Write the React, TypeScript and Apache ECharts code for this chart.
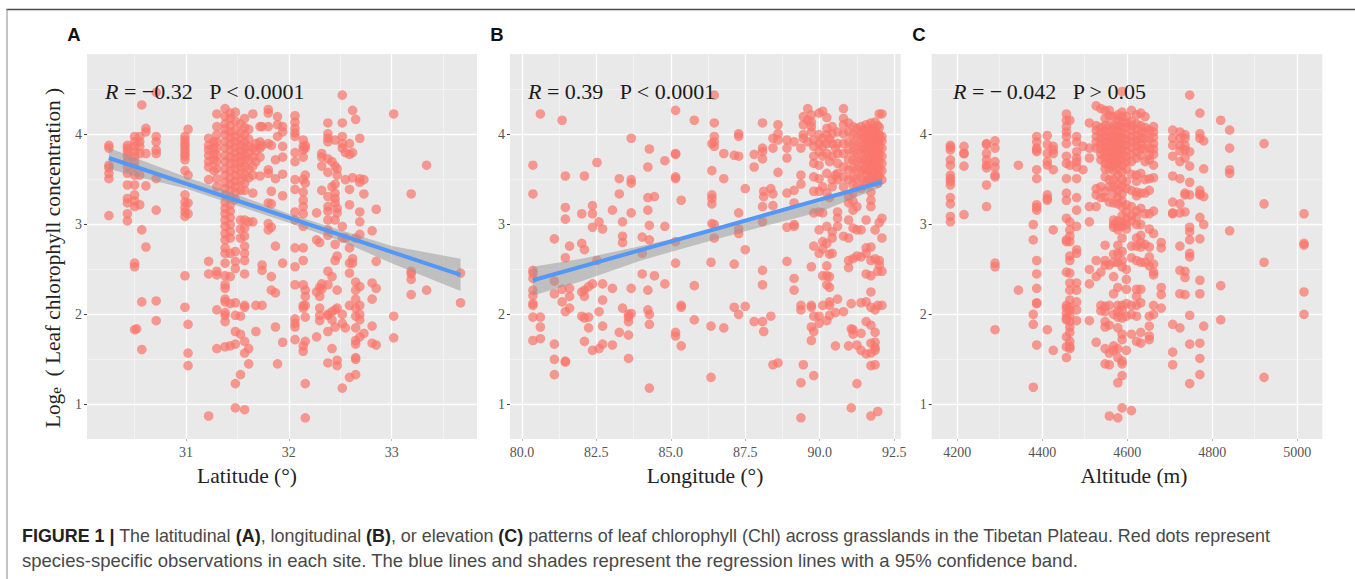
import React, { useEffect, useRef } from "react";
import * as echarts from "echarts";

type Col = [number, number[]];

// Latitude (deg) : Loge chlorophyll values, grouped by site column
const latitudeColumns: Col[] = [
  [30.25, [3.88, 3.85, 3.66, 3.63, 3.57, 3.51, 3.1]],
  [30.43, [3.88, 3.85, 3.81, 3.76, 3.7, 3.64, 3.57, 3.44, 3.29, 3.24, 3.12, 3.04]],
  [30.5, [3.98, 3.92, 3.87, 3.81, 3.76, 3.7, 3.64, 3.55, 3.44, 3.33, 3.26, 3.2, 2.57, 2.53, 1.83]],
  [30.52, [1.84]],
  [30.55, [3.98, 3.92, 3.87, 3.79, 3.55, 3.22]],
  [30.57, [4.33, 2.94, 2.14, 1.61]],
  [30.61, [4.07, 4.03, 3.79, 3.43, 2.75]],
  [30.71, [4.47, 3.98, 3.92, 3.83, 3.79, 3.51, 3.16, 2.15, 1.93]],
  [30.99, [3.98, 3.94, 3.9, 3.87, 3.83, 3.79, 3.76, 3.72, 3.6, 3.33, 3.25, 3.19, 3.14, 3.09, 2.43, 2.08]],
  [31.02, [4.06, 3.55, 3.24, 3.12, 1.89, 1.57, 1.43]],
  [31.22, [3.96, 3.88, 3.83, 3.77, 3.7, 3.64, 3.5, 2.59, 2.45, 0.87]],
  [31.27, [3.92, 3.85, 3.78, 3.72, 3.6]],
  [31.3, [4.23, 4.09, 4.0, 3.92, 3.85, 3.77, 3.7, 3.62, 3.51, 3.42, 2.48, 2.44, 2.05, 1.62]],
  [31.38, [4.29, 4.2, 4.12, 4.06, 4.0, 3.92, 3.85, 3.77, 3.7, 3.62, 3.55, 3.47, 3.4, 3.33, 3.25, 3.18, 3.12, 3.05, 2.98, 2.9, 2.83, 2.74, 2.68, 2.57, 2.43, 2.33, 2.29, 2.17, 2.14, 2.02, 1.99, 1.92, 1.64]],
  [31.43, [4.24, 4.18, 4.1, 4.03, 3.97, 3.9, 3.83, 3.75, 3.68, 3.6, 3.52, 3.45, 3.38, 3.3, 3.22, 3.15, 3.08, 3.0, 2.92, 2.85, 2.68, 2.42, 2.12, 1.65]],
  [31.48, [4.25, 4.15, 4.05, 3.98, 3.92, 3.86, 3.8, 3.74, 3.68, 3.62, 3.55, 3.48, 3.42, 3.36, 3.28, 2.7, 2.59, 2.51, 2.13, 1.99, 1.81, 1.67, 1.23, 0.96]],
  [31.53, [4.12, 4.02, 3.94, 3.88, 3.82, 3.76, 3.7, 3.64, 3.56, 3.48, 3.38, 3.05, 2.95, 2.85, 1.98, 1.78, 1.33]],
  [31.57, [4.18, 4.08, 4.0, 3.92, 3.85, 3.78, 3.72, 3.64, 3.55, 3.46, 3.38, 3.05, 2.96, 2.87, 2.76, 2.68, 2.6, 2.45, 2.1, 2.08, 1.7, 1.57, 0.94]],
  [31.61, [4.06, 3.95, 3.87, 3.8, 3.72, 3.62, 3.52, 3.03, 1.62, 1.45]],
  [31.65, [4.23, 3.85, 3.75, 3.65, 3.55, 3.35, 3.03]],
  [31.68, [3.9, 3.82, 3.7, 2.1, 1.81]],
  [31.72, [4.09, 3.92, 3.85, 3.75, 3.54]],
  [31.74, [4.09, 3.88, 2.55, 2.49, 2.1]],
  [31.8, [4.28, 4.24, 4.09, 3.9, 3.61, 3.57, 3.24, 3.01, 2.94]],
  [31.83, [3.88, 3.37, 3.23, 2.97, 2.42, 2.27]],
  [31.87, [3.72, 3.51, 2.76, 2.24, 1.86]],
  [31.89, [4.2, 4.11, 3.98, 1.45]],
  [31.94, [4.09, 4.03, 3.87, 3.75, 3.56, 3.32, 2.57, 1.69]],
  [32.06, [4.21, 4.14, 4.07, 4.02, 3.98, 3.8, 3.7, 3.5, 3.39, 3.14, 3.05, 2.74, 2.53, 2.33, 1.95, 1.9, 1.86, 1.72]],
  [32.14, [3.94, 3.87, 3.83, 3.75, 3.5, 3.36, 3.27, 3.2, 3.12, 2.98, 2.74, 2.6, 2.33, 2.1, 2.07, 1.65, 1.59]],
  [32.16, [3.88, 3.85, 3.55, 3.46, 2.27, 2.2, 2.1, 1.97, 1.7, 1.23, 0.85]],
  [32.27, [2.83, 1.75, 3.13, 2.25]],
  [32.3, [2.8, 2.3, 2.2, 2.07, 1.99, 1.93]],
  [32.32, [3.79, 3.75, 3.65, 3.38, 2.34, 2.28]],
  [32.38, [4.13, 4.01, 3.96, 3.92, 3.73, 3.58, 3.31, 3.2, 3.15, 3.05, 2.94, 2.88, 2.48, 2.33, 2.0, 1.99, 1.81, 1.46]],
  [32.42, [3.7, 3.42, 2.42, 2.03, 1.94, 1.62]],
  [32.45, [3.94, 3.65, 3.45, 3.35, 3.29, 3.24, 3.05, 2.78, 2.6, 2.05, 1.86]],
  [32.47, [3.62, 3.55, 3.18, 3.13, 2.65, 2.27, 2.07, 1.49, 1.43]],
  [32.52, [4.44, 4.13, 3.98, 3.85, 3.9, 2.98, 2.85, 2.0, 1.9, 1.18]],
  [32.55, [3.8, 3.5, 2.85, 1.85]],
  [32.59, [3.9, 3.78, 3.39, 3.22, 2.74, 2.57, 2.46, 2.1, 1.3]],
  [32.62, [4.27, 3.8, 3.52, 2.62, 2.57]],
  [32.65, [4.17, 2.85, 2.36, 2.27, 2.17, 2.07, 1.98, 1.85, 1.71, 1.67, 1.52, 1.5, 1.33]],
  [32.69, [3.96, 3.51, 3.47, 3.14, 3.03, 2.89, 2.31, 2.1, 2.0, 1.94, 1.75]],
  [32.73, [3.5, 3.34, 1.79]],
  [32.81, [2.93, 2.35, 2.17, 1.87, 1.68]],
  [32.85, [3.17, 2.59, 2.29, 1.66]],
  [33.02, [4.23, 1.98, 1.74]],
  [33.19, [3.34, 2.48, 2.45, 2.39, 2.22]],
  [33.34, [3.66, 2.27]],
  [33.67, [2.46, 2.13]],
];

// Longitude (deg) : Loge chlorophyll values
const longitudeColumns: Col[] = [
  [80.37, [3.66, 3.34, 2.49, 2.46, 2.4, 2.27, 2.21, 2.12, 2.1, 1.97, 1.71]],
  [80.62, [4.23, 1.97, 1.86, 1.73]],
  [81.09, [2.84, 2.37, 2.23, 1.67, 1.5, 1.33]],
  [81.35, [4.16, 2.28, 2.14]],
  [81.46, [3.54, 3.19, 3.06, 2.63, 2.03, 1.47, 1.48]],
  [81.6, [2.76, 2.29, 2.2, 2.07]],
  [82.01, [3.12, 2.79, 2.25, 1.98]],
  [82.1, [3.54, 2.72, 2.27, 2.2, 1.96, 1.7]],
  [82.24, [2.31, 1.97, 1.85]],
  [82.37, [3.21, 3.12, 2.97, 2.34, 1.6]],
  [82.52, [3.69, 2.6]],
  [82.59, [3.03, 2.03, 1.62]],
  [82.71, [2.95, 2.34, 2.16, 1.87, 1.67]],
  [83.04, [3.16, 2.29, 1.66]],
  [83.27, [3.51, 3.34, 1.8]],
  [83.38, [3.03, 2.87, 2.8, 2.07]],
  [83.58, [1.97, 1.92, 1.77, 1.51, 2.0]],
  [83.67, [3.96, 3.5, 3.46, 3.13, 2.29, 2.01]],
  [84.04, [2.86, 2.68, 2.45]],
  [84.23, [3.64, 3.3, 3.16, 2.27, 2.05]],
  [84.28, [3.84, 2.99, 2.83, 2.0, 1.89, 1.18]],
  [84.45, [3.31, 2.43]],
  [84.8, [3.71, 2.98, 2.34]],
  [85.16, [4.27, 3.79, 3.78, 3.53, 3.51, 2.81, 2.57, 1.8, 1.76]],
  [85.35, [3.27, 2.1, 2.08, 1.65]],
  [85.79, [4.16, 2.32, 1.94]],
  [86.35, [2.58, 1.87, 1.3]],
  [86.38, [3.9, 3.6, 3.33, 3.29, 3.23, 3.01]],
  [86.46, [4.44, 4.13, 3.98, 3.92, 3.87, 3.0, 2.85]],
  [86.78, [3.79, 3.51, 1.85]],
  [87.13, [3.77, 2.56, 2.08]],
  [87.28, [4.01, 3.98, 3.76, 3.13, 2.95, 2.9, 2.0]],
  [87.5, [3.4, 2.72, 2.09]],
  [87.8, [3.78, 3.64, 1.92]],
  [88.08, [4.13, 3.85, 3.81, 3.73, 3.2, 3.03, 2.49, 2.33, 1.92]],
  [88.12, [3.37, 3.31, 1.81]],
  [88.36, [3.4, 1.98]],
  [88.43, [3.96, 3.85, 3.34, 3.21, 1.44]],
  [88.6, [4.11, 4.01, 3.94, 3.58, 1.46]],
  [88.9, [3.94, 3.85, 3.74, 3.35, 2.97, 2.59]],
  [89.14, [3.92, 3.38, 3.24, 3.0, 2.98, 2.4, 2.27]],
  [89.37, [3.85, 3.55, 3.45, 2.1, 2.05, 1.24, 0.85]],
  [89.45, [4.2, 4.11, 4.0, 3.96, 1.44]],
  [89.6, [4.29, 4.16, 3.92]],
  [89.72, [4.22, 4.14, 4.09, 4.03, 2.1, 2.08, 1.86, 1.71, 2.53]],
  [89.8, [3.94, 3.87, 3.76, 3.68, 3.53, 3.37, 3.13, 2.76, 1.98, 1.81, 1.32]],
  [89.98, [4.24, 4.0, 3.9, 3.81, 3.66, 3.51, 3.37, 3.14, 2.94, 2.68, 1.98, 1.9]],
  [90.1, [4.26, 3.96, 3.87, 3.76, 3.42, 3.13, 2.81, 2.73, 2.43, 2.1]],
  [90.24, [4.19, 4.07, 4.0, 3.9, 3.79, 3.57, 3.35, 2.98, 2.79, 2.54, 2.43, 2.33, 1.93]],
  [90.33, [3.95, 3.7, 3.3, 2.67, 2.42, 2.3, 2.14, 2.1, 1.99]],
  [90.42, [4.09, 4.01, 3.9, 3.76, 3.5, 3.42, 2.92, 2.85, 2.68]],
  [90.53, [3.85, 3.55, 2.02, 1.65]],
  [90.6, [4.03, 3.9, 3.79, 3.68, 3.57, 3.5, 3.14, 3.07, 2.98, 2.17]],
  [90.8, [4.29, 4.18, 4.11, 4.01, 3.9, 3.79, 3.64, 3.53, 3.42, 2.87, 2.03]],
  [90.97, [4.13, 4.03, 3.92, 3.83, 3.72, 3.61, 3.5, 3.31, 3.24, 3.05, 2.85, 2.6, 2.52, 1.65]],
  [91.06, [2.12, 1.84, 0.96]],
  [91.12, [4.09, 4.0, 3.9, 3.81, 3.72, 3.63, 3.53, 3.44, 3.35, 3.26, 3.16, 2.96, 2.62, 1.83, 1.78]],
  [91.25, [4.07, 3.98, 3.88, 3.79, 3.7, 3.61, 3.51, 3.42, 3.2, 2.94, 2.65, 1.66, 1.23]],
  [91.39, [4.09, 4.03, 3.95, 3.87, 3.78, 3.69, 3.6, 3.52, 3.4, 2.94, 2.64, 2.13, 1.79, 1.6]],
  [91.48, [4.05, 3.96, 3.84, 3.72, 3.62, 3.44]],
  [91.56, [4.11, 4.03, 3.95, 3.87, 3.79, 3.7, 3.62, 3.54, 3.47, 3.05, 2.74, 2.68, 2.45, 2.14, 1.92, 1.56]],
  [91.64, [4.08, 3.99, 3.9, 3.8, 3.7, 3.6, 3.5]],
  [91.72, [4.13, 4.05, 3.97, 3.89, 3.81, 3.73, 3.65, 3.57, 3.49, 3.36, 3.27, 3.2, 2.75, 2.6, 2.43, 2.25, 2.08, 1.88, 1.68, 1.57, 1.43, 0.87]],
  [91.8, [4.07, 3.98, 3.88, 3.78, 3.68, 3.58, 3.48]],
  [91.86, [4.14, 4.06, 3.98, 3.9, 3.82, 3.74, 3.66, 3.58, 3.5, 2.94, 2.62, 2.05, 1.8, 1.69, 1.63, 1.6, 1.44]],
  [91.95, [4.1, 4.0, 3.92, 3.83, 3.74, 3.65, 3.55, 3.46, 2.48, 2.1, 0.92]],
  [92.0, [4.23, 4.08, 4.0, 3.94, 3.86, 3.78, 3.7, 3.62, 3.54, 3.02, 2.6, 2.55]],
  [92.09, [4.23, 3.98, 3.93, 3.85, 3.76, 3.68, 3.6, 3.5, 3.07, 2.85, 2.48, 2.1]],
];

// Altitude (m) : Loge chlorophyll values
const altitudeColumns: Col[] = [
  [4184, [3.88, 3.86, 3.83, 3.72, 3.66, 3.55, 3.51, 3.48, 3.44, 3.3, 3.23, 3.09, 3.03]],
  [4216, [3.87, 3.79, 3.79, 3.65, 3.11]],
  [4269, [3.9, 3.89, 3.79, 3.72, 3.66, 3.63, 3.44, 3.2]],
  [4289, [3.93, 3.85, 3.7, 3.64, 3.55, 3.53, 2.57, 2.53, 1.83]],
  [4344, [3.66, 2.27]],
  [4379, [3.0, 2.83, 2.0, 1.89, 1.19]],
  [4387, [3.98, 3.92, 3.85, 3.83, 3.81, 3.61, 3.51, 3.22, 3.19, 3.16, 2.6, 2.45, 2.29, 2.13, 2.12, 1.66]],
  [4412, [3.99, 3.89, 3.79, 3.7, 3.66, 3.33, 3.29, 3.27, 1.83]],
  [4426, [3.87, 3.83, 3.79, 3.61, 2.94, 1.6]],
  [4457, [4.23, 4.16, 4.09, 4.03, 3.98, 3.9, 3.76, 3.68, 3.51, 3.35, 3.27, 3.07, 2.83, 2.81, 2.47, 2.1, 2.07, 2.01, 1.96, 1.94, 1.75, 1.64, 1.52]],
  [4465, [4.16, 3.66, 3.03, 2.94, 2.87, 2.81, 2.65, 2.6, 2.46, 2.35, 2.27, 2.16, 2.08, 2.05, 1.99, 1.92, 1.86, 1.8, 1.7, 1.64, 1.62]],
  [4481, [3.98, 3.92, 3.81, 3.74, 3.7, 3.64, 3.51, 3.3, 3.16, 2.98, 2.72, 2.68, 2.35, 2.27, 2.14, 2.05, 1.93]],
  [4496, [3.87, 3.61]],
  [4511, [4.13, 3.85, 3.74, 3.2, 3.03, 2.5, 2.34, 1.93]],
  [4527, [4.32, 4.1, 4.05, 3.98, 3.92, 3.85, 3.4, 3.33, 3.2, 2.6, 2.42, 1.69]],
  [4538, [4.29, 4.08, 4.02, 3.96, 3.9, 3.84, 3.78, 3.72, 3.42, 3.3, 2.47, 2.1, 2.04]],
  [4548, [4.27, 4.18, 4.1, 4.04, 3.98, 3.92, 3.86, 3.8, 3.74, 3.68, 3.62, 3.53, 3.37, 3.3, 2.77, 2.6, 2.55, 2.09, 2.03, 1.92, 1.86, 1.62, 1.45]],
  [4558, [4.27, 4.21, 4.1, 4.03, 3.97, 3.92, 3.87, 3.82, 3.77, 3.72, 3.67, 3.62, 3.5, 3.42, 3.25, 2.55, 2.1, 1.88, 1.44, 1.57, 0.87]],
  [4568, [4.2, 4.1, 4.06, 4.0, 3.95, 3.9, 3.85, 3.8, 3.75, 3.7, 3.65, 3.6, 3.5, 3.42, 3.34, 3.24, 3.05, 3.0, 2.97, 2.67, 2.58, 2.42, 2.23, 2.0, 1.65, 1.6]],
  [4578, [4.22, 4.16, 4.1, 4.04, 3.98, 3.93, 3.88, 3.83, 3.78, 3.73, 3.68, 3.63, 3.55, 3.45, 3.38, 3.3, 3.23, 3.04, 2.98, 2.94, 2.77, 2.68, 2.58, 2.3, 2.1, 2.03, 1.97, 1.85, 1.62, 1.52, 1.24, 0.85]],
  [4588, [4.48, 4.25, 4.2, 4.14, 4.08, 4.02, 3.96, 3.9, 3.84, 3.78, 3.72, 3.66, 3.58, 3.5, 3.42, 3.34, 3.26, 3.2, 3.1, 3.02, 2.98, 2.85, 2.7, 2.6, 2.53, 2.1, 2.05, 1.96, 1.78, 1.72, 1.48, 1.45, 1.32, 0.96]],
  [4598, [4.2, 4.13, 4.08, 4.0, 3.94, 3.88, 3.82, 3.76, 3.7, 3.62, 3.48, 3.4, 3.22, 3.14, 3.06, 3.0, 2.95, 2.5, 2.39, 2.28, 2.12, 1.98, 1.6]],
  [4610, [4.27, 4.15, 4.1, 4.05, 3.98, 3.92, 3.86, 3.78, 3.7, 3.56, 3.38, 3.2, 3.1, 3.04, 2.76, 2.63, 2.1, 2.0, 1.78, 0.93]],
  [4622, [4.22, 4.12, 4.06, 3.99, 3.93, 3.87, 3.81, 3.74, 3.55, 3.48, 3.36, 3.32, 3.15, 3.08, 3.0, 2.85, 2.76, 2.6, 2.28, 2.2, 2.1, 1.98, 1.7]],
  [4632, [4.24, 4.1, 4.02, 3.96, 3.9, 3.84, 3.77, 3.57, 3.35, 3.18, 3.0, 2.88, 2.8, 2.75, 2.58, 2.28, 2.13, 1.8, 1.68]],
  [4642, [4.2, 4.08, 4.03, 3.95, 3.85, 3.7, 3.5, 3.35, 3.12, 2.78, 2.58]],
  [4652, [4.05, 3.95, 3.85, 3.77, 3.72, 3.51, 3.38, 3.12, 2.95, 2.75, 2.64, 2.54, 1.98, 1.87, 1.72, 1.76]],
  [4662, [4.09, 4.03, 3.97, 3.9, 3.84, 3.78, 3.66, 3.52, 3.15, 2.9, 2.56, 2.47, 2.44, 2.1, 2.0]],
  [4680, [2.8, 2.74, 2.3, 2.22, 2.07]],
  [4707, [4.05, 3.96, 3.88, 3.76, 3.54, 3.25, 3.13, 3.12, 1.89, 1.58, 1.44]],
  [4724, [4.03, 3.96, 3.88, 3.82, 3.7, 3.51, 3.23, 3.13, 2.76, 2.49, 2.23, 1.85]],
  [4736, [4.0, 3.96, 3.88, 3.83, 3.74, 3.35, 3.33, 3.14, 2.48, 2.41, 2.22]],
  [4747, [4.44, 3.81, 3.65, 3.47, 3.33, 2.97, 2.92, 2.83, 2.68, 2.64, 1.99, 1.67, 1.23]],
  [4771, [4.24, 4.01, 3.96, 3.38, 3.33, 3.34, 3.08, 2.84, 2.38, 2.23, 1.68, 1.51, 1.33]],
  [4780, [3.93, 3.62, 3.31, 3.0, 1.87]],
  [4820, [4.16, 2.32, 1.94]],
  [4841, [4.05, 3.85, 3.61, 3.57, 2.93]],
  [4922, [3.9, 3.23, 2.58, 1.3]],
  [5016, [3.12, 2.79, 2.77, 2.25, 2.0]],
];

const yTicks = [1, 2, 3, 4];
const yMinor = [1.5, 2.5, 3.5, 4.5];
const latTicks = [31, 32, 33];
const latMinor = [30.5, 31.5, 32.5, 33.5];
const lonTicks = [80, 82.5, 85, 87.5, 90, 92.5];
const lonTickLabels = ["80.0", "82.5", "85.0", "87.5", "90.0", "92.5"];
const lonMinor = [81.25, 83.75, 86.25, 88.75, 91.25];
const altTicks = [4200, 4400, 4600, 4800, 5000];
const altMinor = [4300, 4500, 4700, 4900];

// Regression lines
const latFitX = [30.25, 33.67];
const latFitY = [3.74, 2.44];
const lonFitX = [80.37, 92.09];
const lonFitY = [2.38, 3.47];

// 95% confidence bands
const latBandX = [30.25, 30.6, 31, 31.5, 32, 32.5, 33, 33.67];
const latBandHi = [3.85, 3.7, 3.53, 3.33, 3.12, 2.94, 2.76, 2.62];
const latBandLo = [3.62, 3.51, 3.4, 3.21, 3.02, 2.82, 2.57, 2.26];
const lonBandX = [80.37, 82, 84, 86, 88, 90, 92.09];
const lonBandHi = [2.53, 2.62, 2.76, 2.91, 3.07, 3.25, 3.52];
const lonBandLo = [2.21, 2.37, 2.6, 2.79, 2.97, 3.14, 3.42];

const SERIF = "'Liberation Serif', serif";
const SANS = "'Liberation Sans', Arial, sans-serif";
const DOT = "rgba(249,118,108,0.9)";
const panels = [
  { left: 87, right: 477, min: 30.037, max: 33.83, ticks: latTicks, minor: latMinor },
  { left: 510, right: 900.7, min: 79.6, max: 92.72, ticks: lonTicks, minor: lonMinor },
  { left: 931.7, right: 1322.3, min: 4140, max: 5059, ticks: altTicks, minor: altMinor },
];
const TOP = 54;
const BOTTOM = 439;
const yMin = 0.614;
const yMax = 4.897;

const flat = (cols: Col[]) => cols.flatMap(([x, ys]) => ys.map((y) => [x, y]));

const band = (xs: number[], hi: number[], lo: number[], xAxisIndex: number, yAxisIndex: number) => ({
  type: "custom",
  xAxisIndex,
  yAxisIndex,
  z: 3,
  silent: true,
  data: [[xs[0], hi[0]]],
  renderItem: (_p: any, api: any) => ({
    type: "polygon",
    shape: {
      points: [
        ...xs.map((x, i) => api.coord([x, hi[i]])),
        ...xs.map((x, i) => api.coord([x, lo[i]])).reverse(),
      ],
    },
    style: { fill: "rgba(150,150,150,0.5)", stroke: "none" },
  }),
});

const fit = (xs: number[], ys: number[], xAxisIndex: number, yAxisIndex: number) => ({
  type: "line",
  xAxisIndex,
  yAxisIndex,
  z: 4,
  showSymbol: false,
  silent: true,
  lineStyle: { color: "#5597F5", width: 4 },
  data: xs.map((x, i) => [x, ys[i]]),
});

const points = (cols: Col[], xAxisIndex: number, yAxisIndex: number) => ({
  type: "scatter",
  xAxisIndex,
  yAxisIndex,
  z: 2,
  symbolSize: 9.6,
  itemStyle: { color: DOT },
  data: flat(cols),
});

const sans = (text: string, x: number, y: number) => ({
  type: "text",
  z: 10,
  x,
  y,
  style: { text, fill: "#111", font: `bold 18.5px ${SANS}`, align: "center", verticalAlign: "middle" },
});

const xTitle = (text: string, x: number) => ({
  type: "text",
  z: 10,
  x,
  y: 476,
  style: { text, fill: "#222", font: `21.5px ${SERIF}`, align: "center", verticalAlign: "middle" },
});

const stat = (text: string, x: number) => ({
  type: "text",
  z: 10,
  x,
  y: 91,
  style: {
    text,
    fill: "#1a1a1a",
    font: `22px ${SERIF}`,
    align: "left",
    verticalAlign: "middle",
    rich: {
      i: { font: `italic 22px ${SERIF}`, fill: "#1a1a1a" },
      t: { font: `22px ${SERIF}`, fill: "#1a1a1a" },
    },
  },
});

export default function App() {
  const ref = useRef<HTMLDivElement>(null);
  useEffect(() => {
    document.body.style.margin = "0";
    const chart = echarts.init(ref.current!, undefined, { renderer: "svg" });
    const grid = panels.map((p) => ({
      left: p.left,
      top: TOP,
      width: p.right - p.left,
      height: BOTTOM - TOP,
      show: true,
      backgroundColor: "#E9E9E9",
      borderWidth: 0,
    }));
    const xAxis: any[] = [];
    const yAxis: any[] = [];
    panels.forEach((p, i) => {
      const isLon = i === 1;
      xAxis.push({
        type: "value",
        gridIndex: i,
        position: "bottom",
        min: p.min,
        max: p.max,
        axisLine: { show: false },
        axisTick: { show: true, length: 2, customValues: p.ticks, lineStyle: { color: "#b5b5b5", width: 1 } },
        axisLabel: {
          customValues: p.ticks,
          margin: 6,
          color: "#555",
          fontFamily: SERIF,
          fontSize: 14,
          formatter: (v: number) => (isLon ? lonTickLabels[lonTicks.indexOf(v)] ?? String(v) : String(v)),
        },
        splitLine: { show: true, lineStyle: { color: "#fff", width: 1.3 } },
      });
      xAxis.push({
        type: "value",
        gridIndex: i,
        position: "top",
        min: p.min,
        max: p.max,
        axisLine: { show: false },
        axisTick: { show: false, customValues: p.minor },
        axisLabel: { show: false, customValues: p.minor },
        splitLine: { show: true, lineStyle: { color: "#f4f4f4", width: 0.8 } },
      });
      yAxis.push({
        type: "value",
        gridIndex: i,
        position: "left",
        min: yMin,
        max: yMax,
        axisLine: { show: false },
        axisTick: { show: true, length: 3, customValues: yTicks, lineStyle: { color: "#444", width: 1 } },
        axisLabel: { customValues: yTicks, margin: 5, color: "#555", fontFamily: SERIF, fontSize: 14 },
        splitLine: { show: true, lineStyle: { color: "#fff", width: 1.3 } },
      });
      yAxis.push({
        type: "value",
        gridIndex: i,
        position: "right",
        min: yMin,
        max: yMax,
        axisLine: { show: false },
        axisTick: { show: false, customValues: yMinor },
        axisLabel: { show: false, customValues: yMinor },
        splitLine: { show: true, lineStyle: { color: "#f4f4f4", width: 0.8 } },
      });
    });

    chart.setOption({
      animation: false,
      grid,
      xAxis,
      yAxis,
      series: [
        points(latitudeColumns, 0, 0),
        band(latBandX, latBandHi, latBandLo, 0, 0),
        fit(latFitX, latFitY, 0, 0),
        points(longitudeColumns, 2, 2),
        band(lonBandX, lonBandHi, lonBandLo, 2, 2),
        fit(lonFitX, lonFitY, 2, 2),
        points(altitudeColumns, 4, 4),
      ],
      graphic: [
        { type: "line", z: 9, shape: { x1: 6.5, y1: 9.5, x2: 1355, y2: 9.5 }, style: { stroke: "#4a4a4a", lineWidth: 1.5 } },
        { type: "line", z: 9, shape: { x1: 7, y1: 9.5, x2: 7, y2: 579 }, style: { stroke: "#8a8a8a", lineWidth: 1 } },
        sans("A", 74, 34),
        sans("B", 497, 34),
        sans("C", 919, 34),
        {
          type: "text",
          z: 10,
          x: 53,
          y: 258,
          rotation: Math.PI / 2,
          style: {
            text: "{n|Log}{s|e}{n|  ( Leaf chlorophyll concentration )}",
            align: "center",
            verticalAlign: "middle",
            fill: "#222",
            rich: {
              n: { font: `21.3px ${SERIF}`, fill: "#222" },
              s: { font: `15px ${SERIF}`, fill: "#222", verticalAlign: "bottom", lineHeight: 15 },
            },
          },
        },
        xTitle("Latitude (°)", 247),
        xTitle("Longitude (°)", 705),
        xTitle("Altitude (m)", 1134),
        stat("{i|R}{t| = −0.32   P < 0.0001}", 105),
        stat("{i|R}{t| = 0.39   P < 0.0001}", 528),
        stat("{i|R}{t| = −\u20090.042   P > 0.05}", 953),
        {
          type: "text",
          z: 10,
          x: 22,
          y: 536,
          style: {
            text: "{b|FIGURE 1 |} The latitudinal {b|(A)}, longitudinal {b|(B)}, or elevation {b|(C)} patterns of leaf chlorophyll (Chl) across grasslands in the Tibetan Plateau. Red dots represent",
            align: "left",
            verticalAlign: "middle",
            fill: "#484848",
            font: `17.9px ${SANS}`,
            rich: { b: { font: `bold 17.9px ${SANS}`, fill: "#222" } },
          },
        },
        {
          type: "text",
          z: 10,
          x: 22,
          y: 560,
          style: {
            text: "species-specific observations in each site. The blue lines and shades represent the regression lines with a 95% confidence band.",
            align: "left",
            verticalAlign: "middle",
            fill: "#484848",
            font: `18.5px ${SANS}`,
          },
        },
      ],
    });
    return () => chart.dispose();
  }, []);
  return <div ref={ref} style={{ position: "absolute", left: 0, top: 0, width: 1355, height: 579 }} />;
}
